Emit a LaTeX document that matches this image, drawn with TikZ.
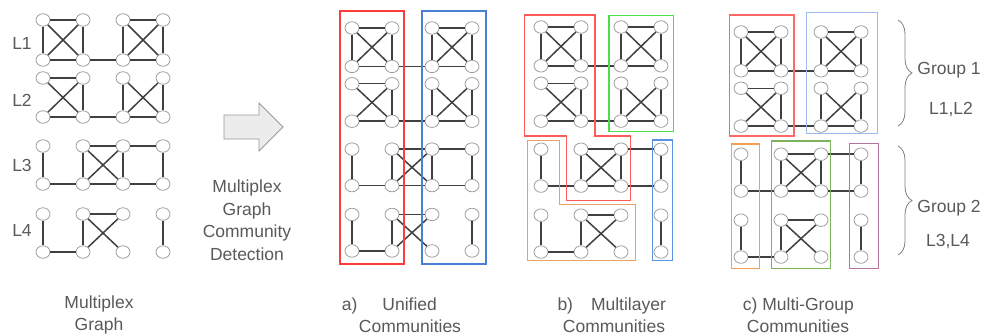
\documentclass[tikz,border=0pt]{standalone}
\usepackage{fontspec}
\setmainfont{Liberation Sans}
\usetikzlibrary{shapes.geometric,decorations.pathreplacing}
\definecolor{txtgray}{HTML}{595959}
\definecolor{ured}{HTML}{FF3B3B}
\definecolor{ublue}{HTML}{4A7FD6}
\definecolor{mred}{HTML}{FF5A5A}
\definecolor{mgreen}{HTML}{4CDD4C}
\definecolor{morange}{HTML}{E9A063}
\definecolor{mblue}{HTML}{5C90E0}
\definecolor{cred}{HTML}{FF6868}
\definecolor{cblue}{HTML}{9DBBEE}
\definecolor{corange}{HTML}{F0A04E}
\definecolor{cgreen}{HTML}{7DB35C}
\definecolor{cpurple}{HTML}{B8769C}
\begin{document}
\begin{tikzpicture}[x=1pt,y=-1pt,
  vert/.style={ellipse,draw=gray!75,fill=white,line width=0.8pt,minimum width=14pt,minimum height=12.5pt,inner sep=0pt},
  edge/.style={line width=1.5pt,draw=black!75},
  comm/.style={line width=1.4pt},
  txt/.style={text=txtgray,font=\fontsize{17.5}{22.5}\selectfont,align=center,inner sep=0pt}]
\useasboundingbox (0,0) rectangle (987,335);

% four copies of the multiplex graph
\foreach \p/\ox/\oy/\sy in {g/43/20/1, u/352/28/0.961, m/541/27/0.97, c/741/32/0.97}
{
\begin{scope}[shift={(\ox,\oy)},yscale=\sy]
 \foreach \r [count=\y from 0] in {0,40,58,97,126,164,194,232}
  \foreach \x in {0,1,2,3}
   \node[vert](\p\x\y) at (40*\x,\r){};
\end{scope}
 \foreach \a/\b in {00/10,00/01,00/11,01/10,10/11,01/11,11/21,20/30,20/21,20/31,21/30,30/31,21/31,
   02/12,02/13,03/12,12/13,03/13,13/23,22/23,22/33,32/23,32/33,23/33,
   04/05,05/15,15/25,25/35,14/24,24/34,14/15,14/25,24/15,24/25,34/35,
   06/07,07/17,16/26,16/17,16/27,26/17,36/37}
  \draw[edge] (\p\a)--(\p\b);
}

\node[txt] (l1) at (22,43) {L1};
\node[txt] (l2) at (22,100) {L2};
\node[txt] (l3) at (22,165) {L3};
\node[txt] (l4) at (22,230) {L4};

% arrow
\draw[draw=gray!80,fill=gray!15,line width=0.8pt] (224,115)--(259,115)--(259,103)--(283,127)--(259,151)--(259,139)--(224,139)--cycle;
\node[txt] (method) at (247,220) {Multiplex\\Graph\\Community\\Detection};

% a) unified
\draw[comm,ured] (340,11) rectangle (404,264);
\draw[comm,ublue] (422,11) rectangle (486,264);
% b) multilayer
\draw[comm,mred] (524.3,15)--(595,15)--(595,136)--(630.7,136)--(630.7,200.7)--(566.7,200.7)--(566.7,136)--(524.3,136)--cycle;
\draw[comm,mgreen] (609,15.7) rectangle (673.3,131.7);
\draw[comm,morange] (527.3,140.7)--(559.3,140.7)--(559.3,204.5)--(635.7,204.5)--(635.7,260.7)--(527.3,260.7)--cycle;
\draw[comm,mblue] (652.7,140) rectangle (672.3,260.7);
% c) multi-group
\draw[comm,cred] (729.3,15) rectangle (794,136);
\draw[comm,cblue] (806.7,12.7) rectangle (877.3,133.3);
\draw[comm,corange] (731.7,144) rectangle (759.3,268.3);
\draw[comm,cgreen] (771.7,141) rectangle (830.7,268.3);
\draw[comm,cpurple] (849.3,143.3) rectangle (878.3,268.3);

% groups
\draw[decorate,decoration={brace,amplitude=14pt},gray,line width=0.8pt] (898,20)--(898,126);
\draw[decorate,decoration={brace,amplitude=14pt},gray,line width=0.8pt] (898,146)--(898,255);
\node[txt] (grp1) at (949,70) {Group 1};
\node[txt] (lay1) at (951,110) {L1,L2};
\node[txt] (grp2) at (949,208) {Group 2};
\node[txt] (lay2) at (948,242) {L3,L4};

% captions
\node[txt] (capg) at (99,315) {Multiplex\\Graph};
\node[txt,align=left,anchor=west] (capu) at (341.7,315) {a)\hspace{25pt}Unified\\\hspace*{17pt}Communities};
\node[txt,align=left,anchor=west] (capm) at (557.3,315) {b)\hspace{18pt}Multilayer\\\hspace*{5.4pt}Communities};
\node[txt,align=left,anchor=west] (capc) at (742.7,315) {c) Multi-Group\\\hspace*{4pt}Communities};
\end{tikzpicture}
\end{document}
